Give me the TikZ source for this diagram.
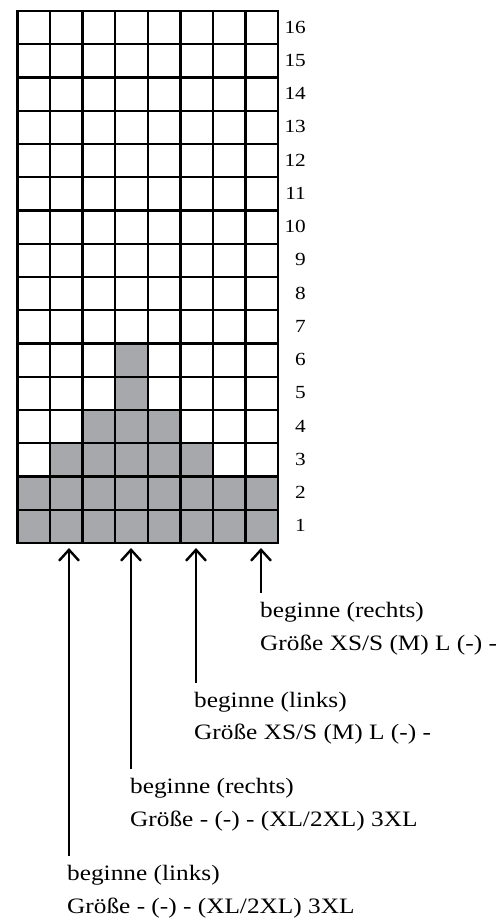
\documentclass[tikz,border=0pt]{standalone}
\usepackage{fontspec}
\setmainfont{Liberation Serif}[FakeStretch=1.15]
\usetikzlibrary{arrows.meta}
\definecolor{stitchgray}{HTML}{A7A8AC}
\begin{document}
\begin{tikzpicture}[x=1pt,y=-1pt,
  gridline/.style={line width=2.4pt, line cap=rect},
  knit/.style={fill=stitchgray},
  rownum/.style={anchor=base east, inner sep=0pt, font=\fontsize{18.5}{20}\selectfont},
  lbl/.style={anchor=base west, inner sep=0pt, font=\fontsize{22}{24}\selectfont},
  pointer/.style={line width=2.4pt, {Straight Barb[length=11pt,width=20pt]}-, shorten >=9pt}]
\useasboundingbox (0,0) rectangle (499,918);
% grid geometry: origin (17.3,11), cell 32.6 x 33.25, 8 columns, 16 rows
% shaded cells (column, row), row 1 at the bottom
\foreach \c/\r in {1/1,2/1,3/1,4/1,5/1,6/1,7/1,8/1,
                   1/2,2/2,3/2,4/2,5/2,6/2,7/2,8/2,
                   2/3,3/3,4/3,5/3,6/3,
                   3/4,4/4,5/4,
                   4/5,4/6}
  \fill[knit] ({17.3+(\c-1)*32.6},{11+(16-\r)*33.25}) rectangle ++(32.6,33.25);
% grid lines
\foreach \i in {0,...,8}
  \draw[gridline] ({17.3+\i*32.6},11) -- ({17.3+\i*32.6},543);
\foreach \j in {0,...,16}
  \draw[gridline] (17.3,{11+\j*33.25}) -- (278.1,{11+\j*33.25});
% row numbers
\foreach \r in {1,...,16}
  \node[rownum] (n\r) at (306,{11+(16-\r)*33.25+22.1}) {\r};
% pointer tips under the grid
\coordinate (t1) at (69,548);
\coordinate (t2) at (131,548);
\coordinate (t3) at (196,548);
\coordinate (t4) at (261,548);
% labels
\node[lbl] (b4a) at (260,617) {beginne (rechts)};
\node[lbl] (b4b) at (260,650) {Größe XS/S (M) L (-) -};
\node[lbl] (b3a) at (194,707) {beginne (links)};
\node[lbl] (b3b) at (194,739) {Größe XS/S (M) L (-) -};
\node[lbl] (b2a) at (130,793) {beginne (rechts)};
\node[lbl] (b2b) at (130,826) {Größe - (-) - (XL/2XL) 3XL};
\node[lbl] (b1a) at (67,880) {beginne (links)};
\node[lbl] (b1b) at (67,913) {Größe - (-) - (XL/2XL) 3XL};
% pointers
\draw[pointer] (t1) -- (t1 |- b1a.north);
\draw[pointer] (t2) -- (t2 |- b2a.north);
\draw[pointer] (t3) -- (t3 |- b3a.north);
\draw[pointer] (t4) -- (t4 |- b4a.north);
\end{tikzpicture}
\end{document}
